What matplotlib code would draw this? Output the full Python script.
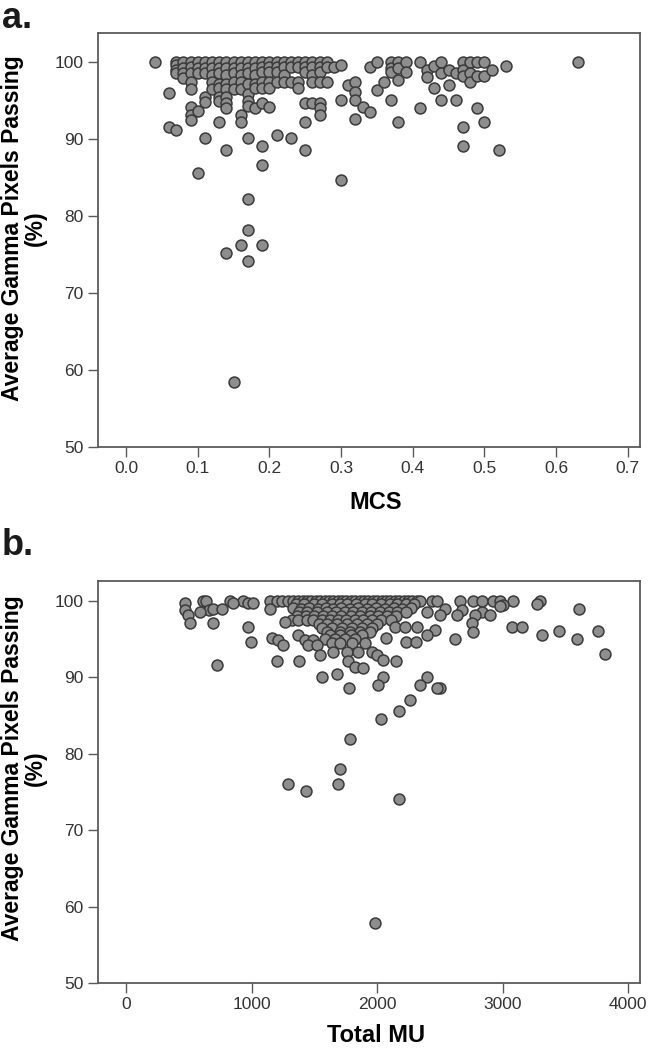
import matplotlib
matplotlib.use("Agg")
import matplotlib.pyplot as plt

plt.rcParams['font.family'] = ['Liberation Sans', 'DejaVu Sans']

# ---------------- panel a : MCS vs gamma passing ----------------
mcs = [
    0.04,
    0.06, 0.06,
    0.07, 0.07, 0.07, 0.07, 0.07,
    0.08, 0.08, 0.08, 0.08,
    0.09, 0.09, 0.09, 0.09, 0.09, 0.09, 0.09, 0.09,
    0.10, 0.10, 0.10, 0.10, 0.10,
    0.11, 0.11, 0.11, 0.11, 0.11, 0.11,
    0.12, 0.12, 0.12, 0.12, 0.12,
    0.13, 0.13, 0.13, 0.13, 0.13, 0.13, 0.13, 0.13,
    0.14, 0.14, 0.14, 0.14, 0.14, 0.14, 0.14, 0.14, 0.14, 0.14,
    0.15, 0.15, 0.15, 0.15, 0.15, 0.15,
    0.16, 0.16, 0.16, 0.16, 0.16, 0.16, 0.16, 0.16,
    0.17, 0.17, 0.17, 0.17, 0.17, 0.17, 0.17, 0.17, 0.17, 0.17, 0.17,
    0.18, 0.18, 0.18, 0.18, 0.18, 0.18,
    0.19, 0.19, 0.19, 0.19, 0.19, 0.19, 0.19, 0.19, 0.19,
    0.20, 0.20, 0.20, 0.20, 0.20, 0.20,
    0.21, 0.21, 0.21, 0.21, 0.21,
    0.22, 0.22, 0.22, 0.22,
    0.23, 0.23, 0.23, 0.23,
    0.24, 0.24, 0.24, 0.24,
    0.25, 0.25, 0.25, 0.25, 0.25, 0.25,
    0.26, 0.26, 0.26, 0.26, 0.26,
    0.27, 0.27, 0.27, 0.27, 0.27, 0.27, 0.27,
    0.28, 0.28, 0.28,
    0.29,
    0.30, 0.30, 0.30,
    0.31,
    0.32, 0.32, 0.32, 0.32,
    0.33,
    0.34, 0.34,
    0.35, 0.35,
    0.36,
    0.37, 0.37, 0.37, 0.37,
    0.38, 0.38, 0.38, 0.38,
    0.39, 0.39,
    0.41, 0.41,
    0.42, 0.42,
    0.43, 0.43,
    0.44, 0.44, 0.44,
    0.45, 0.45,
    0.46, 0.46,
    0.47, 0.47, 0.47, 0.47, 0.47,
    0.48, 0.48, 0.48,
    0.49, 0.49, 0.49,
    0.50, 0.50, 0.50,
    0.51,
    0.52,
    0.53,
    0.63,
]
gamma_a = [
    100,
    96.0, 91.6,
    100, 99.6, 99.0, 98.6, 91.2,
    100, 99.2, 98.6, 98.0,
    100, 99.4, 98.6, 97.4, 96.5, 94.2, 93.2, 92.5,
    100, 99.2, 98.6, 93.7, 85.6,
    100, 99.2, 98.6, 95.5, 94.9, 90.1,
    100, 99.2, 98.4, 97.4, 96.5,
    100, 99.2, 98.6, 97.2, 96.6, 95.5, 95.0, 92.2,
    100, 99.2, 98.4, 97.2, 96.5, 95.5, 94.7, 94.0, 88.6, 75.2,
    100, 99.2, 98.6, 97.4, 96.5, 58.4,
    100, 99.2, 98.4, 97.4, 96.5, 93.2, 92.2, 76.2,
    100, 99.2, 98.6, 97.2, 95.9, 95.0, 94.3, 90.1, 82.2, 78.2, 74.2,
    100, 99.2, 98.4, 97.2, 96.6, 94.0,
    100, 99.4, 98.8, 97.4, 96.6, 94.7, 89.1, 86.7, 76.2,
    100, 99.4, 98.8, 97.4, 96.6, 94.2,
    100, 99.4, 98.8, 97.4, 90.6,
    100, 99.4, 98.3, 97.4,
    100, 99.4, 97.4, 90.1,
    100, 99.4, 97.4, 96.6,
    100, 99.4, 98.8, 94.7, 92.2, 88.6,
    100, 99.4, 98.3, 97.4, 94.7,
    100, 99.4, 98.8, 97.4, 94.7, 94.0, 93.2,
    100, 99.4, 97.4,
    99.4,
    99.6, 95.1, 84.7,
    97.0,
    97.5, 96.1, 95.1, 92.6,
    94.2,
    99.4, 93.6,
    100, 96.4,
    97.5,
    100, 99.2, 98.7, 95.1,
    100, 99.2, 97.7, 92.2,
    100, 98.7,
    100, 94.0,
    99.0, 98.1,
    99.5, 96.6,
    100, 98.6, 95.1,
    99.0, 97.1,
    98.6, 95.1,
    100, 99.0, 98.2, 91.6, 89.1,
    100, 98.6, 97.5,
    100, 98.2, 94.0,
    100, 98.2, 92.2,
    99.0,
    88.6,
    99.5,
    100,
]

# ---------------- panel b : total MU vs gamma passing ----------------
mu_b = [
    # ~100 %
    610, 636, 827, 933, 1146, 1199, 1239, 1290, 1332, 1370, 1405, 1440,
    1475, 1510, 1545, 1580, 1615, 1650, 1685, 1720, 1755, 1790, 1825,
    1860, 1895, 1930, 1965, 2000, 2035, 2070, 2105, 2140, 2175, 2210,
    2245, 2280, 2315, 2340, 2434, 2474, 2660, 2766, 2833, 2925, 2978,
    3085, 3297,
    # ~99.6 %
    468, 853, 973, 1013, 1350, 1420, 1500, 1560, 1640, 1700, 1760, 1830,
    1900, 1960, 2030, 2100, 2160, 2230, 2290, 3005, 3271,
    # ~99 %
    468, 662, 694, 761, 1146, 1330, 1390, 1460, 1530, 1590, 1650, 1710,
    1780, 1850, 1920, 1990, 2060, 2130, 2200, 2270, 2540, 2673, 2978, 3610,
    # ~98.5 %
    588, 1380, 1440, 1520, 1600, 1670, 1740, 1810, 1880, 1950, 2020, 2090,
    2160, 2230, 2394, 2833,
    # ~98 %
    495, 1360, 1430, 1500, 1570, 1640, 1710, 1790, 1860, 1940, 2010, 2080,
    2150, 2500, 2633, 2779, 2899,
    # ~97.5 %
    1319, 1371, 1438, 1490, 1560, 1620, 1690, 1750, 1820, 1890, 1960, 2030,
    2110,
    # ~97 %
    508, 694, 1265, 1540, 1600, 1680, 1760, 1840, 1920, 2000, 2753,
    # ~96.5 %
    973, 1560, 1640, 1720, 1800, 1880, 1960, 2142, 2222, 2315, 2461, 3072,
    3151,
    # ~96 %
    1600, 1700, 1780, 1860, 1940, 2766, 3451, 3759,
    # ~95.5 %
    1371, 1620, 1700, 1790, 1880, 2394, 3311,
    # ~95 %
    1159, 1212, 1425, 1491, 1580, 1660, 1740, 1820, 2070, 2620, 3594,
    # ~94.5 %
    994, 1252, 1451, 1518, 1640, 1700, 1800, 1900, 2229, 2309,
    # ~93 %
    1544, 1650, 1760, 1850, 1960, 3818,
    # ~92 %
    1204, 1379, 1770, 1996, 2049, 2150,
    # lower
    721, 1823, 1889, 1558, 1677, 1778, 2049, 2009, 2394, 2341, 2500, 2480,
    2261, 2030, 2174, 1783, 1704, 1287, 1435, 1685, 2174, 1982,
]
gamma_b = [
    100, 100, 100, 100, 100, 100, 100, 100, 100, 100, 100, 100,
    100, 100, 100, 100, 100, 100, 100, 100, 100, 100, 100,
    100, 100, 100, 100, 100, 100, 100, 100, 100, 100, 100,
    100, 100, 100, 100, 100, 100, 100, 100, 100, 100, 100,
    100, 100,
    99.7, 99.7, 99.7, 99.7, 99.6, 99.6, 99.6, 99.6, 99.6, 99.6, 99.6, 99.6,
    99.6, 99.6, 99.6, 99.6, 99.6, 99.6, 99.6, 99.5, 99.6,
    98.8, 98.8, 99.0, 99.0, 99.0, 99.1, 99.0, 99.1, 99.0, 99.1, 99.0, 99.1,
    99.0, 99.1, 99.0, 99.1, 99.0, 99.1, 99.0, 99.1, 99.0, 98.8, 99.3, 99.0,
    98.6, 98.5, 98.5, 98.5, 98.5, 98.5, 98.5, 98.5, 98.5, 98.5, 98.5, 98.5,
    98.5, 98.5, 98.6, 98.6,
    98.2, 98.0, 98.0, 98.0, 98.0, 98.0, 98.0, 98.0, 98.0, 98.0, 98.0, 98.0,
    98.0, 98.2, 98.2, 98.2, 98.2,
    97.5, 97.5, 97.5, 97.5, 97.5, 97.5, 97.5, 97.5, 97.5, 97.5, 97.5, 97.5,
    97.5,
    97.1, 97.1, 97.3, 97.0, 97.0, 97.0, 97.0, 97.0, 97.0, 97.0, 97.1,
    96.6, 96.5, 96.5, 96.5, 96.5, 96.5, 96.5, 96.6, 96.6, 96.6, 96.2, 96.6,
    96.6,
    96.0, 96.0, 96.0, 96.0, 96.0, 96.0, 96.1, 96.1,
    95.5, 95.5, 95.5, 95.5, 95.5, 95.5, 95.5,
    95.1, 94.9, 94.9, 94.9, 95.0, 95.0, 95.0, 95.0, 95.1, 95.0, 95.0,
    94.7, 94.2, 94.2, 94.2, 94.5, 94.5, 94.5, 94.5, 94.7, 94.7,
    92.9, 93.3, 93.3, 93.3, 93.3, 93.0,
    92.1, 92.1, 92.1, 92.9, 92.3, 92.1,
    91.6, 91.4, 91.2, 90.1, 90.5, 88.6, 90.1, 89.0, 90.1, 89.0, 88.6, 88.6,
    87.0, 84.6, 85.6, 82.0, 78.0, 76.1, 75.1, 76.1, 74.1, 57.9,
]

FW, FH = 658, 1050
fig = plt.figure(figsize=(FW / 100, FH / 100), dpi=100)
ax1 = fig.add_axes([97.5 / FW, 1 - 447 / FH, 542.5 / FW, 414.3 / FH])
ax2 = fig.add_axes([97.5 / FW, 1 - 983 / FH, 542.5 / FW, 402.3 / FH])

ylab = "Average Gamma Pixels Passing\n(%)"

for ax, xs, ys in [(ax1, mcs, gamma_a), (ax2, mu_b, gamma_b)]:
    ax.scatter(xs, ys, s=62, facecolor='#8e8e8e', edgecolor='#3a3a3a',
               linewidths=1.1, zorder=3)
    for sp in ax.spines.values():
        sp.set_color('#5a5a5a')
        sp.set_linewidth(1.3)
    ax.tick_params(direction='out', length=7, width=1, color='#5a5a5a',
                   labelsize=12.5, labelcolor='#333333', pad=3)
    ax.set_yticks([50, 60, 70, 80, 90, 100])
    ax.set_ylabel(ylab, fontsize=16.5, fontweight='bold', va='center',
                  linespacing=1.0)

ax1.set_xlim(-0.04, 0.717)
ax1.set_ylim(50, 103.85)
ax1.set_xticks([0.0, 0.1, 0.2, 0.3, 0.4, 0.5, 0.6, 0.7])
ax1.set_xticklabels(['0.0', '0.1', '0.2', '0.3', '0.4', '0.5', '0.6', '0.7'])
ax1.set_xlabel("MCS", fontsize=17, fontweight='bold', va='center')
ax1.xaxis.set_label_coords(0.513, -0.135)
ax1.yaxis.set_label_coords(-0.1355, 0.529)

ax2.set_xlim(-229, 4094)
ax2.set_ylim(50, 102.66)
ax2.set_xticks([0, 1000, 2000, 3000, 4000])
ax2.set_xlabel("Total MU", fontsize=17, fontweight='bold', va='center')
ax2.xaxis.set_label_coords(0.513, -0.13)
ax2.yaxis.set_label_coords(-0.1355, 0.533)

fig.text(2 / FW, 1 - 28 / FH, "a.", fontsize=26, fontweight='bold',
         va='baseline', ha='left', color='#1a1a1a')
fig.text(2 / FW, 1 - 555 / FH, "b.", fontsize=26, fontweight='bold',
         va='baseline', ha='left', color='#1a1a1a')

fig.savefig("out.png", dpi=100)
